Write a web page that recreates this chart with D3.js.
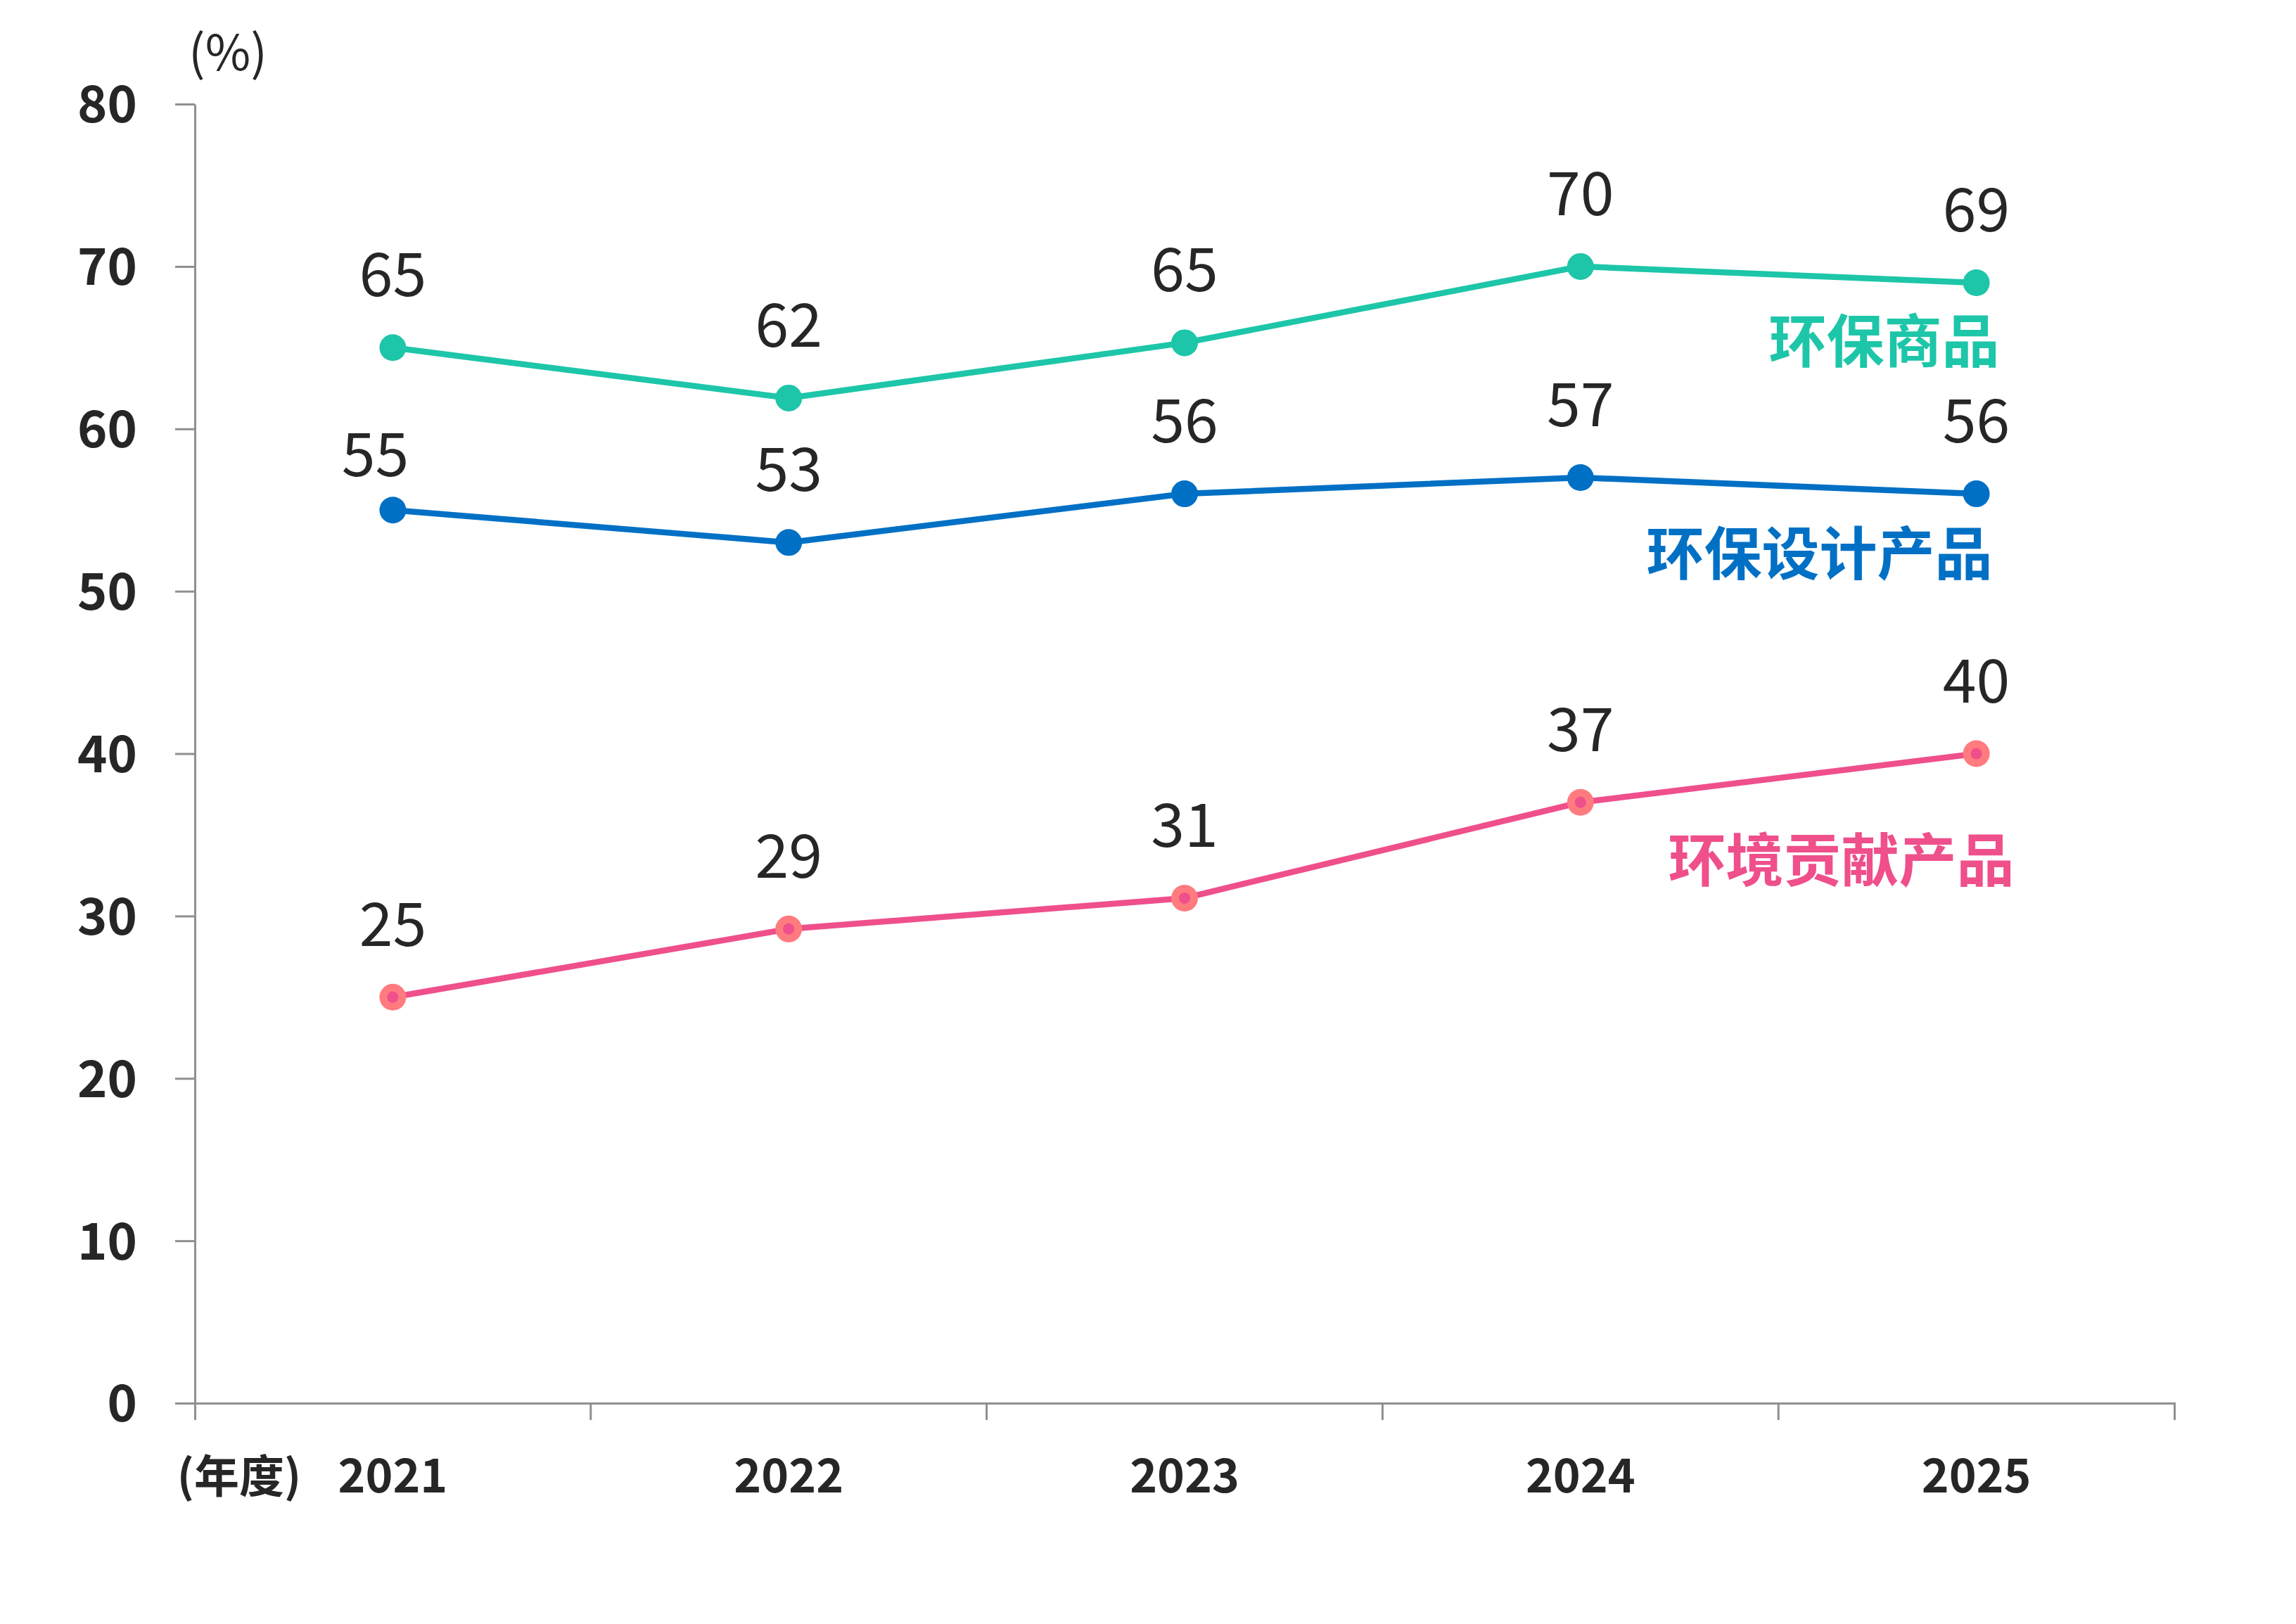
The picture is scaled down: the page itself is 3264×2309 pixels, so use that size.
<!DOCTYPE html>
<html>
<head>
<meta charset="utf-8">
<script src="https://cdn.jsdelivr.net/npm/d3@7"></script>
<style>
  body { margin: 0; background: #fff; }
  svg { display: block; font-family: "Noto Sans CJK SC", "Noto Sans", sans-serif; }
</style>
</head>
<body>
<div id="chart"></div>
<script>
// data
var years = ["2021", "2022", "2023", "2024", "2025"];
var ecoGoods = [65, 61.9, 65.3, 70, 69];
var ecoDesign = [55, 53, 56, 57, 56];
var envContrib = [25, 29.2, 31.1, 37, 40];
var seriesNames = ["环保商品", "环保设计产品", "环境贡献产品"];
var yTicks = [0, 10, 20, 30, 40, 50, 60, 70, 80];

var width = 3264,
    height = 2309,
    margin = {top: 148, right: 173, bottom: 314, left: 277};

var series = [
  {name: seriesNames[0], values: ecoGoods, color: "#1dc6a8", nameDx: 33, nameDy: 113},
  {name: seriesNames[1], values: ecoDesign, color: "#0070c5", nameDx: 23, nameDy: 115},
  {name: seriesNames[2], values: envContrib, color: "#ef4f8b", marker: "#ff7b7f", nameDx: 54, nameDy: 181}
];

var svg = d3.select("#chart").append("svg")
  .attr("width", width)
  .attr("height", height);

svg.append("rect").attr("width", width).attr("height", height).attr("fill", "#fff");

var x = d3.scaleBand().domain(years).range([margin.left, width - margin.right]).padding(0);
var y = d3.scaleLinear().domain([0, 80]).range([height - margin.bottom, margin.top]);
var cx = d => x(d) + x.bandwidth() / 2;

var axisColor = "#8f8f8f",
    textColor = "#262626";

// Y axis
var gy = svg.append("g")
  .attr("transform", `translate(${margin.left},0)`)
  .call(d3.axisLeft(y).tickValues(yTicks).tickSize(28).tickSizeOuter(0).tickPadding(54));
gy.select(".domain").attr("stroke", axisColor).attr("stroke-width", 3);
gy.selectAll(".tick line").attr("stroke", axisColor).attr("stroke-width", 3);
gy.selectAll(".tick text")
  .attr("fill", textColor)
  .attr("font-size", 72)
  .attr("font-weight", "bold")
  .attr("font-family", "Noto Sans CJK SC")
  .attr("dy", "0.36em");

// X axis
var gx = svg.append("g")
  .attr("transform", `translate(0,${y(0)})`)
  .call(d3.axisBottom(x).tickSize(0).tickSizeOuter(24));
gx.select(".domain").attr("stroke", axisColor).attr("stroke-width", 3);
gx.selectAll(".tick text")
  .attr("fill", textColor)
  .attr("font-size", 66)
  .attr("font-weight", "bold")
  .attr("font-family", "Noto Sans CJK SC")
  .attr("y", 127)
  .attr("dy", 0);

// band boundary ticks
gx.selectAll(".sep")
  .data(years.slice(1))
  .enter().append("line")
  .attr("class", "sep")
  .attr("x1", d => x(d)).attr("x2", d => x(d))
  .attr("y1", 0).attr("y2", 24)
  .attr("stroke", axisColor).attr("stroke-width", 3);

// unit labels
svg.append("text")
  .attr("x", 324).attr("y", 100)
  .attr("text-anchor", "middle")
  .attr("font-size", 70)
  .attr("fill", textColor)
  .text("(%)");

svg.append("text")
  .attr("x", 340).attr("y", y(0) + 127)
  .attr("text-anchor", "middle")
  .attr("font-size", 64)
  .attr("font-weight", "bold")
  .attr("fill", textColor)
  .text("(年度)");

var line = d3.line()
  .x((d, i) => cx(years[i]))
  .y(d => y(d));

// small nudge for the 2021 value of the blue line
var labelNudge = {"1-0": [-25, 25]};

series.forEach(function(s, si) {
  var g = svg.append("g");

  g.append("path")
    .datum(s.values)
    .attr("d", line)
    .attr("fill", "none")
    .attr("stroke", s.color)
    .attr("stroke-width", 8.5);

  g.selectAll(".dot")
    .data(s.values)
    .enter().append("circle")
    .attr("class", "dot")
    .attr("cx", (d, i) => cx(years[i]))
    .attr("cy", d => y(d))
    .attr("r", 19)
    .attr("fill", s.marker || s.color);

  if (s.marker) {
    g.selectAll(".inner")
      .data(s.values)
      .enter().append("circle")
      .attr("class", "inner")
      .attr("cx", (d, i) => cx(years[i]))
      .attr("cy", d => y(d))
      .attr("r", 8)
      .attr("fill", s.color);
  }

  g.selectAll(".val")
    .data(s.values)
    .enter().append("text")
    .attr("class", "val")
    .attr("x", (d, i) => cx(years[i]) + ((labelNudge[si + "-" + i] || [0, 0])[0]))
    .attr("y", (d, i) => y(d) - 73 + ((labelNudge[si + "-" + i] || [0, 0])[1]))
    .attr("text-anchor", "middle")
    .attr("font-size", 86)
    .attr("fill", textColor)
    .text(d => d3.format(".0f")(d));

  var last = s.values.length - 1;
  g.append("text")
    .attr("x", cx(years[last]) + s.nameDx)
    .attr("y", y(s.values[last]) + s.nameDy)
    .attr("text-anchor", "end")
    .attr("font-size", 82)
    .attr("font-weight", "bold")
    .attr("fill", s.color)
    .text(s.name);
});
</script>
</body>
</html>
